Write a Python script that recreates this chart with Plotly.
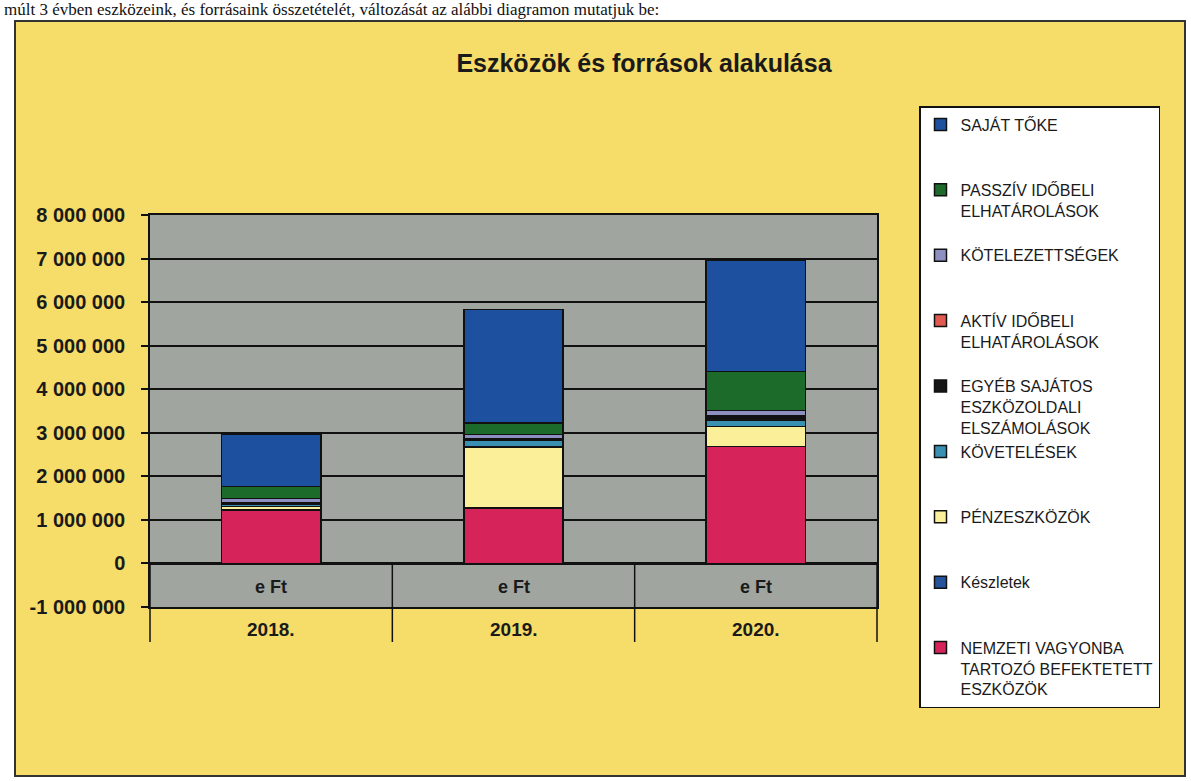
import plotly.graph_objects as go

# ---------------- data ----------------
years = ["2018.", "2019.", "2020."]
unit_label = "e Ft"
chart_title = "Eszközök és források alakulása"
page_text = ("múlt 3 évben eszközeink, és forrásaink összetételét, változását "
             "az alábbi diagramon mutatjuk be:")

# stacked from bottom to top
nemzeti = [1220000, 1260000, 2680000]
keszletek = [10000, 10000, 10000]
penzeszkozok = [80000, 1400000, 450000]
kovetelesek = [60000, 150000, 140000]
egyeb = [20000, 30000, 60000]
aktiv = [10000, 10000, 40000]
kotelezettsegek = [90000, 100000, 130000]
passziv = [280000, 270000, 900000]
sajat_toke = [1200000, 2600000, 2560000]

series_values = [nemzeti, keszletek, penzeszkozok, kovetelesek, egyeb,
                 aktiv, kotelezettsegek, passziv, sajat_toke]
series_names = [
    "NEMZETI VAGYONBA<br>TARTOZÓ BEFEKTETETT<br>ESZKÖZÖK",
    "Készletek",
    "PÉNZESZKÖZÖK",
    "KÖVETELÉSEK",
    "EGYÉB SAJÁTOS<br>ESZKÖZOLDALI<br>ELSZÁMOLÁSOK",
    "AKTÍV IDŐBELI<br>ELHATÁROLÁSOK",
    "KÖTELEZETTSÉGEK",
    "PASSZÍV IDŐBELI<br>ELHATÁROLÁSOK",
    "SAJÁT TŐKE",
]
series_colors = ["#D6245A", "#24539C", "#FBEF9A", "#3A90B0", "#151515",
                 "#E05A50", "#8C8FC0", "#1D6B2B", "#1E50A0"]

tick_values = [-1000000, 0, 1000000, 2000000, 3000000, 4000000,
               5000000, 6000000, 7000000, 8000000]
tick_labels = ["-1 000 000", "0", "1 000 000", "2 000 000", "3 000 000",
               "4 000 000", "5 000 000", "6 000 000", "7 000 000", "8 000 000"]

# ---------------- geometry (pixels) ----------------
W, H = 1191, 781
L, R, T, B = 150, 877, 215, 607          # plot area edges
PW, PH = R - L, B - T


def px_x(p):
    return (p - L) / PW


def px_y(p):
    return (B - p) / PH


FONT = "Liberation Sans, Arial, sans-serif"
TXT = "#1a1a1a"


def padded(name, lines=3):
    n = name.count("<br>") + 1
    return name + "<br>\u00a0" * (lines - n)


fig = go.Figure()
for vals, name, col in zip(series_values, series_names, series_colors):
    fig.add_trace(go.Bar(
        x=years, y=vals, name=padded(name),
        marker=dict(color=col, line=dict(color="#111111", width=1.5)),
    ))

shapes = [
    # yellow chart frame
    dict(type="rect", xref="paper", yref="paper", layer="below",
         x0=px_x(15), x1=px_x(1185), y0=px_y(776), y1=px_y(21),
         fillcolor="#F6DC68", line=dict(color="#333333", width=2)),
    # gray plot area
    dict(type="rect", xref="paper", yref="paper", layer="below",
         x0=0, x1=1, y0=0, y1=1, fillcolor="#A0A5A0", line=dict(width=0)),
]
# category dividers (between and at the edges of categories)
y_zero = px_y(B - PH / 9)
y_low = px_y(642)
for xv in [0.5, 1.5]:
    shapes.append(dict(type="line", xref="x", yref="paper", x0=xv, x1=xv,
                       y0=y_zero, y1=y_low, line=dict(color="#111111", width=1.5)))
for xv in [0, 1]:
    shapes.append(dict(type="line", xref="paper", yref="paper", x0=xv, x1=xv,
                       y0=y_zero, y1=y_low, line=dict(color="#111111", width=1.5)))

annotations = []
for i, yr in enumerate(years):
    annotations.append(dict(x=i, xref="x", y=-550000, yref="y",
                            text=f"<b>{unit_label}</b>", showarrow=False,
                            font=dict(family=FONT, size=18, color=TXT),
                            xanchor="center", yanchor="middle"))
    annotations.append(dict(x=i, xref="x", y=px_y(629), yref="paper",
                            text=f"<b>{yr}</b>", showarrow=False,
                            font=dict(family=FONT, size=19, color=TXT),
                            xanchor="center", yanchor="middle"))
annotations.append(dict(x=px_x(2), xref="paper", y=px_y(10), yref="paper",
                        text=page_text, showarrow=False,
                        font=dict(family="Liberation Serif, Times New Roman, serif",
                                  size=17, color="#111111"),
                        xanchor="left", yanchor="middle"))

fig.update_layout(
    width=W, height=H,
    margin=dict(l=L, r=W - R, t=T, b=H - B, pad=0),
    paper_bgcolor="white",
    plot_bgcolor="rgba(0,0,0,0)",
    barmode="stack",
    bargap=0.59,
    title=dict(text=f"<b>{chart_title}</b>", x=644 / W, xanchor="center",
               y=1 - 63 / H, yanchor="middle", xref="container", yref="container",
               font=dict(family=FONT, size=25, color=TXT)),
    font=dict(family=FONT, color=TXT),
    showlegend=True,
    legend=dict(
        x=px_x(919), y=px_y(106), xanchor="left", yanchor="top",
        traceorder="reversed", valign="top", maxheight=640,
        bgcolor="white", bordercolor="#111111", borderwidth=1.5,
        font=dict(family=FONT, size=16, color=TXT),
        itemclick=False, itemdoubleclick=False,
    ),
    xaxis=dict(
        type="category", categoryorder="array", categoryarray=years,
        range=[-0.5, 2.5], autorange=False,
        showticklabels=False, ticks="",
        showline=True, linecolor="#111111", linewidth=1.5, mirror=True,
        showgrid=False, zeroline=False, fixedrange=True,
    ),
    yaxis=dict(
        range=[-1000000, 8000000], autorange=False,
        tickvals=tick_values, ticktext=tick_labels,
        ticks="outside", ticklen=7, tickwidth=1.5, tickcolor="#111111",
        ticklabelstandoff=12,
        tickfont=dict(family=FONT, size=20, color=TXT, weight="bold"),
        showline=True, linecolor="#111111", linewidth=1.5, mirror=True,
        showgrid=True, gridcolor="#111111", gridwidth=1.5,
        zeroline=True, zerolinecolor="#111111", zerolinewidth=2.5,
        fixedrange=True,
    ),
    shapes=shapes,
    annotations=annotations,
)

fig.write_html(
    "out.html",
    config={"displayModeBar": False},
    post_script="document.body.style.margin='0';document.body.style.overflow='hidden';",
)
